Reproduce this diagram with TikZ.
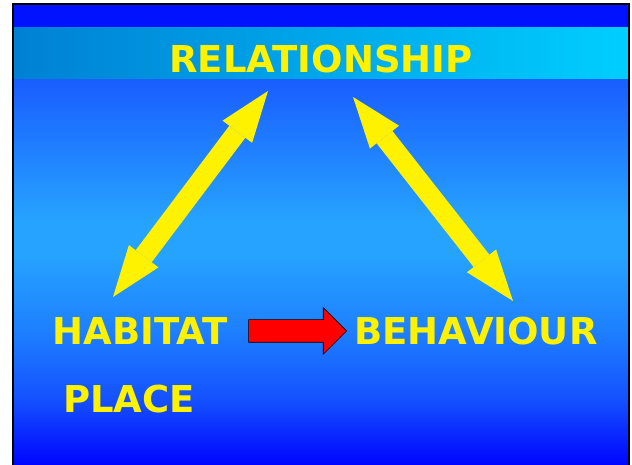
\documentclass[tikz,border=0pt]{standalone}
\usepackage{fontspec}
\setmainfont{DejaVu Sans}
\usetikzlibrary{arrows.meta,shapes.arrows}

\definecolor{topblue}{RGB}{0,18,255}
\definecolor{bandleft}{RGB}{0,128,212}
\definecolor{bandright}{RGB}{0,206,255}
\definecolor{skyhigh}{RGB}{26,94,255}
\definecolor{skymid}{RGB}{38,162,255}
\definecolor{skylower}{RGB}{30,128,255}
\definecolor{skyfall}{RGB}{20,80,255}
\definecolor{skylow}{RGB}{0,4,255}

\pgfdeclareverticalshading{sky}{100bp}{color(0bp)=(skylow); color(25bp)=(skylow);
    color(33.4bp)=(skyfall); color(42.5bp)=(skylower); color(52bp)=(skymid);
    color(57bp)=(skymid); color(75bp)=(skyhigh); color(100bp)=(skyhigh)}

\begin{document}
\begin{tikzpicture}[x=1pt,y=1pt,
    word/.style={text=yellow, font=\bfseries\fontsize{37}{40}\selectfont, inner sep=0pt},
    twoway/.style={draw=yellow, line width=20pt,
        {Triangle[length=51pt,width=37pt,line width=0pt]}-{Triangle[length=51pt,width=37pt,line width=0pt]}},
    redpush/.style={single arrow, draw=black, fill=red, line width=0.6pt, inner xsep=0pt, inner ysep=11pt,
        minimum height=98pt, single arrow head extend=12pt}]

                    \useasboundingbox (0,0) rectangle (632,465);
                    \fill[white] (0,0) rectangle (632,465);

                    % Slide background
                    \fill[topblue] (13,437) rectangle (629,461);
                    \shade[left color=bandleft, right color=bandright] (13,385) rectangle (629,437);
                    \shade[shading=sky] (13,0) rectangle (629,385);
                    \draw[line width=2pt] (13,0) -- (13,461) -- (629,461) -- (629,0);

                    % Words
                    \node[word] (rel) at (321,406) {RELATIONSHIP};
                    \node[word] (habitat) at (140,134) {HABITAT};
                    \node[word] (behaviour) at (476,134) {BEHAVIOUR};
                    \node[word] (place) at (129,66) {PLACE};

                    % Arrow ends
                    \coordinate (relL) at (268,374);
                    \coordinate (habT) at (113,168);
                    \coordinate (relR) at (353,368);
                    \coordinate (behT) at (513,164);

                    \draw[twoway] (relL) -- (habT);
                    \draw[twoway] (relR) -- (behT);

                    % Red arrow from habitat to behaviour
                    \node[redpush, anchor=tip] (push) at (347,134) {};

                \end{tikzpicture}
\end{document}
